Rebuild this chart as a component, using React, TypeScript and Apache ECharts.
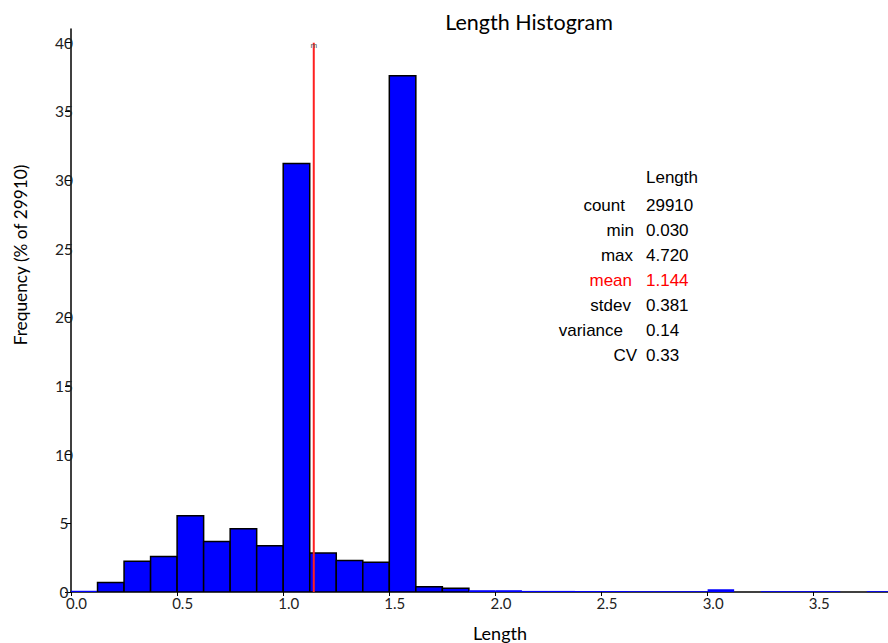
import React, { useEffect, useRef } from "react";
import * as echarts from "echarts";

// ---- data ----
const binStart = 0;
const binWidth = 0.125;
// frequency (% of 29910) per bin, bins of width 0.125 starting at 0
const frequencies = [
  0.09, 0.69, 2.24, 2.58, 5.55, 3.68, 4.6, 3.36, 31.2, 2.84, 2.29, 2.16, 37.6,
  0.39, 0.27, 0.13, 0.13, 0.08, 0.08, 0.07, 0.07, 0.06, 0.06, 0.06, 0.2, 0,
  0.06, 0.06, 0.06, 0, 0.06,
];
const meanValue = 1.144;
const meanLineTop = 40;
const statHeader = "Length";
const statLabels = ["count", "min", "max", "mean", "stdev", "variance", "CV"];
const statValues = ["29910", "0.030", "4.720", "1.144", "0.381", "0.14", "0.33"];
const titleText = "Length Histogram";
const xName = "Length";
const yName = "Frequency (% of 29910)";

// styles
const statLabelRight = [625, 634, 633, 632, 631, 623, 637];

export default function App() {
  const ref = useRef<HTMLDivElement>(null);
  useEffect(() => {
    if (!ref.current) return;
    const chart = echarts.init(ref.current, undefined, { renderer: "svg" });
    const binData = frequencies.map((f, i) => [
      binStart + i * binWidth,
      binStart + (i + 1) * binWidth,
      f,
    ]);
    const calibriLike = "Lato, 'Open Sans', sans-serif";
    const arialLike = "'Liberation Sans', Arial, sans-serif";
    const graphics: any[] = [
      {
        type: "text",
        x: 529,
        y: 22,
        style: {
          text: titleText,
          font: `21.5px ${calibriLike}`,
          fill: "#000",
          textAlign: "center",
          textVerticalAlign: "middle",
        },
      },
      {
        type: "text",
        x: 500,
        y: 633,
        style: {
          text: xName,
          font: `18px ${calibriLike}`,
          fill: "#000",
          textAlign: "center",
          textVerticalAlign: "middle",
        },
      },
      {
        type: "text",
        x: 20,
        y: 255,
        rotation: Math.PI / 2,
        style: {
          text: yName,
          font: `17.3px ${calibriLike}`,
          fill: "#000",
          textAlign: "center",
          textVerticalAlign: "middle",
        },
      },
      {
        type: "text",
        x: 646,
        y: 177,
        style: {
          text: statHeader,
          font: `17px ${arialLike}`,
          fill: "#000",
          textAlign: "left",
          textVerticalAlign: "middle",
        },
      },
    ];
    statLabels.forEach((lab, i) => {
      const color = lab === "mean" ? "#ff0000" : "#000";
      graphics.push({
        type: "text",
        x: statLabelRight[i],
        y: 205 + i * 25,
        style: {
          text: lab,
          font: `17px ${arialLike}`,
          fill: color,
          textAlign: "right",
          textVerticalAlign: "middle",
        },
      });
      graphics.push({
        type: "text",
        x: 646,
        y: 205 + i * 25,
        style: {
          text: statValues[i],
          font: `17px ${arialLike}`,
          fill: color,
          textAlign: "left",
          textVerticalAlign: "middle",
        },
      });
    });

    chart.setOption({
      animation: false,
      grid: { left: 71, right: 0, top: 29, bottom: 51, containLabel: false },
      xAxis: {
        type: "value",
        min: 0,
        max: 3.85,
        interval: 0.5,
        splitLine: { show: false },
        axisLine: { show: true, lineStyle: { color: "#000", width: 1.5 } },
        axisTick: { show: true, length: 4, lineStyle: { color: "#000", width: 1 } },
        axisLabel: {
          formatter: (v: number) => v.toFixed(1),
          fontFamily: "Lato, 'Open Sans', sans-serif",
          fontSize: 15,
          color: "#222",
          margin: 3,
          align: "center",
          padding: [0, 0, 0, 11],
          showMaxLabel: false,
        },
      },
      yAxis: {
        type: "value",
        min: 0,
        max: 41,
        interval: 5,
        splitLine: { show: false },
        axisLine: { show: true, lineStyle: { color: "#000", width: 1.5 } },
        axisTick: { show: true, length: 6, lineStyle: { color: "#000", width: 1 } },
        axisLabel: {
          fontFamily: "Lato, 'Open Sans', sans-serif",
          fontSize: 15.5,
          color: "#222",
          margin: 7,
          align: "center",
          showMaxLabel: false,
        },
      },
      series: [
        {
          type: "custom",
          clip: true,
          data: binData,
          encode: { x: [0, 1], y: 2 },
          renderItem: (params: any, api: any) => {
            const s = api.value(0);
            const e = api.value(1);
            const v = api.value(2);
            if (!(v > 0)) return null;
            const p0 = api.coord([s, 0]);
            const p1 = api.coord([e, v]);
            return {
              type: "rect",
              shape: {
                x: p0[0],
                y: p1[1],
                width: p1[0] - p0[0],
                height: p0[1] - p1[1],
              },
              style: {
                fill: "#0000ff",
                stroke: v >= 0.25 ? "#000" : null,
                lineWidth: 1.5,
              },
            };
          },
        },
        {
          type: "line",
          data: [
            [meanValue, 0],
            {
              value: [meanValue, meanLineTop],
              label: {
                show: true,
                formatter: "m",
                position: "inside",
                offset: [0, 3],
                fontSize: 8,
                color: "#555",
              },
            },
          ],
          showSymbol: true,
          symbol: "circle",
          symbolSize: 0.1,
          itemStyle: { color: "#ff2020" },
          lineStyle: { color: "#ff2020", width: 2 },
          z: 5,
        },
      ],
      graphic: graphics,
    });
    return () => chart.dispose();
  }, []);
  return <div ref={ref} style={{ width: 888, height: 643, position: "absolute", left: 0, top: 0 }} />;
}
